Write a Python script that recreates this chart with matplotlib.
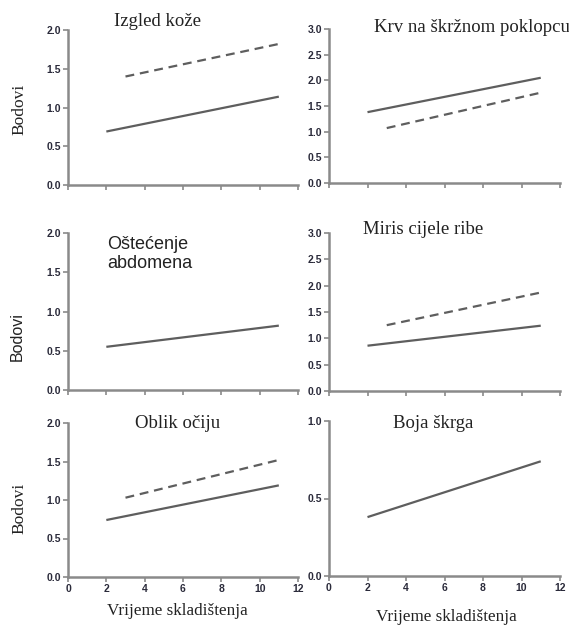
import matplotlib
matplotlib.use("Agg")
import matplotlib.pyplot as plt

W, H = 569, 625
DPI = 100

# ---- data ----
days_solid = [2, 11]
days_dashed = [3, 11]

izgled_solid = [0.69, 1.14]
izgled_dashed = [1.40, 1.82]
krv_solid = [1.38, 2.05]
krv_dashed = [1.07, 1.76]
ostecenje_solid = [0.55, 0.82]
miris_solid = [0.86, 1.24]
miris_dashed = [1.25, 1.87]
oblik_solid = [0.74, 1.19]
oblik_dashed = [1.03, 1.52]
boja_solid = [0.38, 0.74]

titles = ["Izgled kože", "Krv na škržnom poklopcu", "Oštećenje\nabdomena",
          "Miris cijele ribe", "Oblik očiju", "Boja škrga"]
x_ticks = [0, 2, 4, 6, 8, 10, 12]
y_ticks_2 = [0.0, 0.5, 1.0, 1.5, 2.0]
y_ticks_3 = [0.0, 0.5, 1.0, 1.5, 2.0, 2.5, 3.0]
y_ticks_1 = [0.0, 0.5, 1.0]
ylabel = "Bodovi"
xlabel = "Vrijeme skladištenja"

fig = plt.figure(figsize=(W / DPI, H / DPI), dpi=DPI)
fig.patch.set_facecolor("white")

def px_rect(x0, x1, ytop, ybot):
    return [x0 / W, 1 - ybot / H, (x1 - x0) / W, (ybot - ytop) / H]

AX_COL = "#8a8a8a"
LINE_COL = "#5e5e5e"
TICK_TXT = "#2a2a3a"

panels = [
    (px_rect(68, 298, 30, 185), 2.0, y_ticks_2,
     [(days_solid, izgled_solid, "-"), (days_dashed, izgled_dashed, "--")], False),
    (px_rect(329, 560, 29, 183), 3.0, y_ticks_3,
     [(days_solid, krv_solid, "-"), (days_dashed, krv_dashed, "--")], False),
    (px_rect(68, 298, 233, 390), 2.0, y_ticks_2,
     [(days_solid, ostecenje_solid, "-")], False),
    (px_rect(329, 560, 233, 391), 3.0, y_ticks_3,
     [(days_solid, miris_solid, "-"), (days_dashed, miris_dashed, "--")], False),
    (px_rect(68, 298, 423, 577), 2.0, y_ticks_2,
     [(days_solid, oblik_solid, "-"), (days_dashed, oblik_dashed, "--")], True),
    (px_rect(329, 560, 421, 576), 1.0, y_ticks_1,
     [(days_solid, boja_solid, "-")], True),
]

for rect, ymax, yt, series, showx in panels:
    ax = fig.add_axes(rect)
    for xs, ys, ls in series:
        if ls == "--":
            ax.plot(xs, ys, color=LINE_COL, lw=1.6, linestyle=(0, (4, 2.6)),
                    solid_capstyle="butt", dash_capstyle="butt")
        else:
            ax.plot(xs, ys, color=LINE_COL, lw=1.6, solid_capstyle="butt")
    ax.set_xlim(0, 12)
    ax.set_ylim(0, ymax)
    for s in ["top", "right"]:
        ax.spines[s].set_visible(False)
    for s in ["left", "bottom"]:
        ax.spines[s].set_color(AX_COL)
        ax.spines[s].set_linewidth(1.8)
    ax.set_xticks(x_ticks)
    ax.set_yticks(yt)
    ax.set_yticklabels([f"{v:.1f}" for v in yt])
    if showx:
        ax.set_xticklabels([str(v) for v in x_ticks])
    else:
        ax.set_xticklabels([])
    ax.tick_params(axis="both", direction="out", length=3.5, width=1.2,
                   color=AX_COL, labelsize=7.5, labelcolor=TICK_TXT, pad=1.5)
    for lab in ax.get_xticklabels() + ax.get_yticklabels():
        lab.set_fontweight("bold")
        lab.set_fontfamily("Liberation Sans")
    ax.patch.set_alpha(0)

def ftext(x, y, s, **kw):
    fig.text(x / W, 1 - y / H, s, **kw)

serif = "Liberation Serif"
sans = "Liberation Sans"
TS = 13.5
ftext(158, 22, titles[0], ha="center", va="center", family=serif, fontsize=TS, color="#222222")
ftext(374, 27, titles[1], ha="left", va="center", family=serif, fontsize=TS, color="#222222")
ftext(107, 254, titles[2], ha="left", va="center", family=sans, fontsize=13,
      color="#222222", linespacing=1.2)
ftext(423, 229, titles[3], ha="center", va="center", family=serif, fontsize=TS, color="#222222")
ftext(178, 423, titles[4], ha="center", va="center", family=serif, fontsize=TS, color="#222222")
ftext(433, 423, titles[5], ha="center", va="center", family=serif, fontsize=TS, color="#222222")

ftext(19, 109, ylabel, ha="center", va="center", rotation=90, family=serif, fontsize=12.5, color="#222222")
ftext(17, 337, ylabel, ha="center", va="center", rotation=90, family=sans, fontsize=11.5, color="#222222")
ftext(19, 508, ylabel, ha="center", va="center", rotation=90, family=serif, fontsize=12.5, color="#222222")

ftext(177, 611, xlabel, ha="center", va="center", family=serif, fontsize=12.3, color="#222222")
ftext(446, 617, xlabel, ha="center", va="center", family=serif, fontsize=12.3, color="#222222")

fig.savefig("out.png", dpi=DPI, facecolor="white")
